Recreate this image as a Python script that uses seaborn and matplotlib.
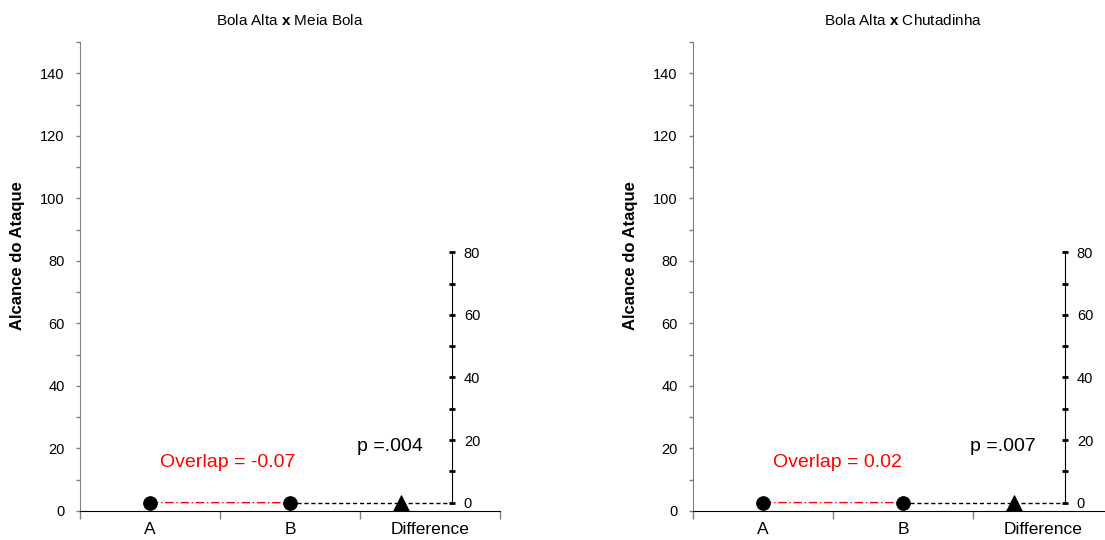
import numpy as np
import pandas as pd
import matplotlib
matplotlib.use("Agg")
import matplotlib.pyplot as plt
import seaborn as sns
from matplotlib.ticker import MultipleLocator, FixedLocator, NullFormatter

# Dados
titles = ["Bola Alta x Meia Bola", "Bola Alta x Chutadinha"]
categories = ["A", "B", "Difference"]
mean_a = [2.7, 2.7]
mean_b = [2.65, 2.68]
overlap = [-0.07, 0.02]
p_values = [".004", ".007"]

sns.set_style("white")
plt.rcParams['font.family'] = ['Liberation Sans', 'DejaVu Sans']
plt.rcParams['mathtext.fontset'] = 'custom'
plt.rcParams['mathtext.rm'] = 'Liberation Sans'
plt.rcParams['mathtext.bf'] = 'Liberation Sans:bold'
plt.rcParams['text.color'] = 'black'
plt.rcParams['xtick.color'] = 'black'
plt.rcParams['ytick.color'] = 'black'
plt.rcParams['axes.labelcolor'] = 'black'

fig = plt.figure(figsize=(11.05, 5.4), dpi=100)
W, H = 1105, 540
lefts = [80, 693]

DIFF_X = 2.157   # posição do eixo da diferença
TRI_X = 1.79

for i in range(2):
    ax = fig.add_axes([lefts[i] / W, 1 - 511 / H, 420 / W, 469 / H])
    diff = mean_b[i] - mean_a[i]

    df = pd.DataFrame({"x": [0, 1], "y": [mean_a[i], mean_b[i]]})
    sns.lineplot(data=df, x="x", y="y", ax=ax, color="red", lw=1, linestyle=(0, (6, 2, 1, 2)), zorder=2)
    sns.lineplot(x=[1, DIFF_X], y=[mean_b[i], mean_b[i]], ax=ax, color="black", lw=1,
                 linestyle=(0, (3, 2)), zorder=2)
    sns.scatterplot(data=df, x="x", y="y", ax=ax, color="black", s=95, marker="o",
                    edgecolor="black", zorder=3)

    ax.set_xlim(-0.5, 2.5)
    ax.set_ylim(0, 150)
    ax.set_xlabel("")
    ax.set_ylabel("Alcance do Ataque", fontsize=12, fontweight="bold")
    ax.yaxis.set_label_coords(-0.131, 0.545)

    ax.yaxis.set_major_locator(MultipleLocator(20))
    ax.yaxis.set_minor_locator(MultipleLocator(10))
    ax.yaxis.set_major_formatter(plt.FuncFormatter(lambda v, p: f"{v:.0f}"))
    ax.tick_params(axis="y", which="both", direction="out", length=3, width=1,
                   color="#808080", labelsize=10.5, pad=8, left=True)

    ax.xaxis.set_major_locator(FixedLocator([-0.5, 0.5, 1.5, 2.5]))
    ax.xaxis.set_major_formatter(NullFormatter())
    ax.xaxis.set_minor_locator(FixedLocator([0, 1, 2]))
    ax.set_xticklabels(categories, minor=True)
    ax.tick_params(axis="x", which="major", direction="out", length=6, width=1,
                   color="#808080", bottom=True)
    ax.tick_params(axis="x", which="minor", length=0, labelsize=12.5, pad=8, bottom=True)

    for s in ["top", "right"]:
        ax.spines[s].set_visible(False)
    ax.spines["left"].set_color("#808080")
    ax.spines["bottom"].set_color("black")

    t = titles[i].split(" x ")
    ax.set_title(t[0] + r" $\mathbf{x}$ " + t[1], fontsize=11, pad=12)

    ax.text(0.07, 15.4, f"Overlap = {overlap[i]:.2f}", color="red", fontsize=14,
            ha="left", va="center")
    ax.text(1.48, 20.5, f"p ={p_values[i]}", color="black", fontsize=14,
            ha="left", va="center")

    # eixo da diferença, com o zero alinhado à média de A
    ax2 = ax.twinx()
    ax2.set_ylim(-mean_a[i], 150 - mean_a[i])
    sns.scatterplot(x=[TRI_X], y=[diff], ax=ax2, color="black", s=120, marker="^",
                    edgecolor="black", zorder=3)
    for s in ["top", "left", "bottom"]:
        ax2.spines[s].set_visible(False)
    ax2.spines["right"].set_position(("data", DIFF_X))
    ax2.spines["right"].set_bounds(0, 80)
    ax2.spines["right"].set_color("black")
    ax2.yaxis.set_major_locator(FixedLocator([0, 20, 40, 60, 80]))
    ax2.yaxis.set_minor_locator(FixedLocator([10, 30, 50, 70]))
    ax2.tick_params(axis="y", which="both", direction="inout", length=5, width=2,
                    labelsize=10.5, pad=6, right=True)
    ax2.set_ylabel("")

fig.savefig("out.png", dpi=100)
